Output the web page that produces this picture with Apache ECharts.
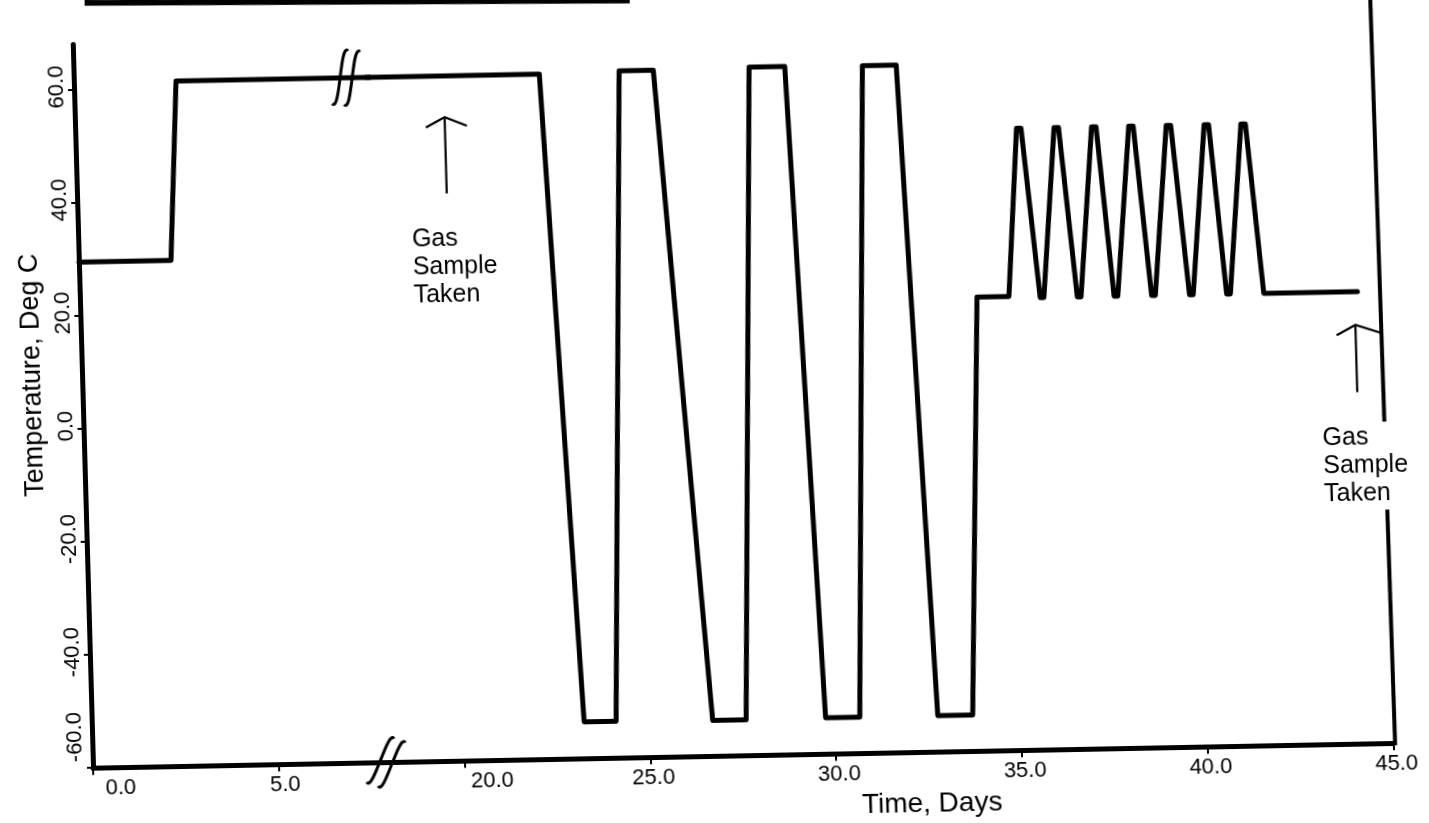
<!DOCTYPE html>
<html>
<head>
<meta charset="utf-8">
<script src="https://cdn.jsdelivr.net/npm/echarts@6/dist/echarts.min.js"></script>
<style>
html,body{margin:0;padding:0;background:#fff;overflow:hidden;width:1429px;height:823px;}
#chart{position:absolute;left:0;top:0;width:1429px;height:900px;
  transform-origin:93px 766px;transform:matrix(1,-0.019,0.028,1,0,0);}
</style>
</head>
<body>
<div id="chart"></div>
<script>
// ---- data (time in days, temperature in deg C) ----
const days = [0, 2.48, 2.75, 22.53, 23.25, 24.11, 24.68, 25.60, 26.71, 27.61,
  28.18, 29.14, 29.75, 30.67, 31.23, 32.14, 32.77, 33.71, 34.14, 35.00,
  35.33, 35.45, 35.84, 35.94, 36.34, 36.46, 36.84, 36.94, 37.35, 37.47,
  37.83, 37.93, 38.35, 38.47, 38.84, 38.94, 39.36, 39.48, 39.86, 39.96,
  40.38, 40.50, 40.86, 40.96, 41.37, 41.49, 41.86, 44.38];
const temps = [29.5, 29.5, 61.2, 61.2, -53.5, -53.5, 61.5, 61.5, -53.7, -53.7,
  61.7, 61.7, -53.6, -53.6, 61.6, 61.6, -53.6, -53.6, 20.3, 20.3,
  50, 50, 20, 20, 50, 50, 20, 20, 50, 50,
  20, 20, 50, 50, 20, 20, 50, 50, 20, 20,
  50, 50, 20, 20, 50, 50, 20, 20];
const xTicksLeft  = [0, 5];                      // before the axis break
const xTicksRight = [20, 25, 30, 35, 40, 45];    // after the axis break
const yTicks = [-60, -40, -20, 0, 20, 40, 60];
const breakLeftMax = 7.9, breakRightMin = 17.9;  // the axis break (days 7.9 .. 17.9 omitted)
// annotations: day, arrow tip temp, arrow base temp
const noteDays = [19.95, 44.30];
const noteTip  = [53.9, 14.1];
const noteBase = [40.4, 2.2];
const noteText = 'Gas\nSample\nTaken';

const chart = echarts.init(document.getElementById('chart'), null, {renderer: 'canvas'});
const font = '"Liberation Sans", Arial, sans-serif';
const pts = days.map((d, i) => [d, temps[i]]);

const baseX = {
  type: 'value',
  axisLine: {show: true, onZero: false, lineStyle: {color: '#000', width: 5}},
  axisTick: {show: true, length: 7, lineStyle: {color: '#000', width: 2}},
  splitLine: {show: false}
};
const fmt = v => v.toFixed(1);

chart.setOption({
  animation: false,
  backgroundColor: '#fff',
  grid: [
    {left: 93, width: 293.5, top: 44.5, bottom: 131.8, containLabel: false, outerBoundsMode: 'none'},
    {left: 386.5, right: 35.7, top: 44.5, bottom: 131.8, containLabel: false, outerBoundsMode: 'none'}
  ],
  xAxis: [
    Object.assign({}, baseX, {
      gridIndex: 0, min: 0, max: breakLeftMax,
      axisTick: Object.assign({}, baseX.axisTick, {customValues: xTicksLeft}),
      axisLabel: {customValues: xTicksLeft, formatter: fmt, color: '#000', fontFamily: font, fontSize: 22,
        margin: 10, padding: [0, 0, 0, 12], alignMinLabel: 'left'}
    }),
    Object.assign({}, baseX, {
      gridIndex: 1, min: breakRightMin, max: 45,
      axisTick: Object.assign({}, baseX.axisTick, {customValues: xTicksRight}),
      axisLabel: {customValues: xTicksRight, formatter: fmt, color: '#000', fontFamily: font, fontSize: 22,
        margin: 10, padding: [0, 0, 0, 6], alignMinLabel: 'left'},
      name: 'Time, Days', nameLocation: 'middle', nameGap: 38,
      nameTextStyle: {color: '#000', fontFamily: font, fontSize: 28, padding: [0, 0, 0, 82]}
    })
  ],
  yAxis: [
    {
      gridIndex: 0, type: 'value', min: -60, max: 68,
      axisLine: {show: true, onZero: false, lineStyle: {color: '#000', width: 5}},
      axisTick: {show: true, length: 6, customValues: yTicks, lineStyle: {color: '#000', width: 2}},
      splitLine: {show: false},
      axisLabel: {customValues: yTicks, formatter: fmt, color: '#000', fontFamily: font, fontSize: 22,
        rotate: 90, margin: 6, padding: [0, 0, 0, 6], alignMinLabel: 'left'},
      name: 'Temperature, Deg C', nameLocation: 'middle', nameGap: 36,
      nameTextStyle: {color: '#000', fontFamily: font, fontSize: 27, padding: [0, 0, 0, 64]}
    },
    {gridIndex: 1, type: 'value', min: -60, max: 68, show: false, splitLine: {show: false}}
  ],
  series: [
    {type: 'line', xAxisIndex: 0, yAxisIndex: 0, symbol: 'none', clip: true,
      data: pts.slice(0, 4), lineStyle: {color: '#000', width: 5, join: 'round', cap: 'round'}},
    {type: 'line', xAxisIndex: 1, yAxisIndex: 1, symbol: 'none', clip: true,
      data: pts.slice(2), lineStyle: {color: '#000', width: 5, join: 'round', cap: 'round'}}
  ]
});

// ---- annotations placed through the chart's own scales ----
const PA = (x, y) => chart.convertToPixel({xAxisIndex: 0, yAxisIndex: 0}, [x, y]);
const PB = (x, y) => chart.convertToPixel({xAxisIndex: 1, yAxisIndex: 1}, [x, y]);
const p0 = PA(0, 0);

const g = [];
const st = {stroke: '#000', lineWidth: 2.2, fill: null};
const rightArm = [22, 27];
noteDays.forEach((d, i) => {
  const tip = PB(d, noteTip[i]), base = PB(d, noteBase[i]);
  g.push({type: 'line', shape: {x1: base[0], y1: base[1], x2: tip[0], y2: tip[1]}, style: st, z: 20});
  g.push({type: 'polyline', shape: {points: [[tip[0] - 19, tip[1] + 10], tip, [tip[0] + rightArm[i], tip[1] + 9]]}, style: st, z: 20});
  g.push({type: 'text', x: base[0] - 36, y: base[1] + 30, z: 30,
    style: {text: noteText, font: '25px ' + font, lineHeight: 28, fill: '#000',
      textAlign: 'left', textVerticalAlign: 'top', backgroundColor: '#fff', padding: [2, 0, 2, 0]}});
});

// right frame line
const corner = PB(45, -60);
g.push({type: 'line', z: 5, shape: {x1: corner[0] - 2, y1: 24, x2: corner[0] + 2, y2: corner[1] + 2},
  style: {stroke: '#000', lineWidth: 4}});
// top edge line of the page
g.push({type: 'line', z: 5, shape: {x1: p0[0] + 13, y1: 3, x2: p0[0] + 558, y2: 11},
  style: {stroke: '#000', lineWidth: 6}});

// axis break marks
function breakMark(p, rot, h) {
  const curve = dx => ({type: 'bezierCurve',
    shape: {x1: dx + 6, y1: -h, cpx1: dx - 3, cpy1: -h - 8, cpx2: dx + 3, cpy2: h + 8, x2: dx - 6, y2: h},
    style: {stroke: '#000', lineWidth: 3, fill: null}});
  return {type: 'group', x: p[0], y: p[1], rotation: rot, z: 25,
    children: [
      {type: 'rect', shape: {x: -3, y: -5, width: 6, height: 10}, style: {fill: '#fff'}},
      curve(-6), curve(6)
    ]};
}
g.push(breakMark(PA(7.33, 61.2), -0.1, 27));
g.push(breakMark(PA(7.89, -60), -0.35, 25));

chart.setOption({graphic: g});
</script>
</body>
</html>
